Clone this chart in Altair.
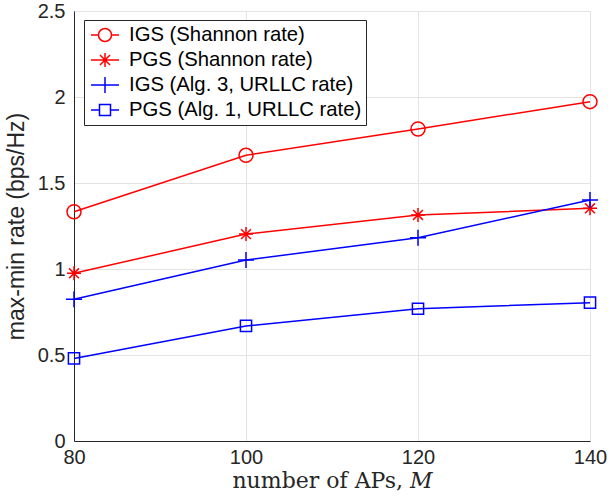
import altair as alt
import pandas as pd

aps = [80, 100, 120, 140]
series_names = ["IGS (Shannon rate)", "PGS (Shannon rate)", "IGS (Alg. 3, URLLC rate)", "PGS (Alg. 1, URLLC rate)"]
igs_shannon = [1.333, 1.661, 1.814, 1.973]
pgs_shannon = [0.975, 1.203, 1.314, 1.353]
igs_urllc = [0.824, 1.052, 1.182, 1.401]
pgs_urllc = [0.48, 0.669, 0.769, 0.804]
series_colors = ["#ff0000", "#ff0000", "#0000ff", "#0000ff"]
y_ticks = [0, 0.5, 1, 1.5, 2, 2.5]

rows = []
for name, vals in zip(series_names, [igs_shannon, pgs_shannon, igs_urllc, pgs_urllc]):
    for a, v in zip(aps, vals):
        rows.append({"aps": a, "rate": v, "series": name})
df = pd.DataFrame(rows)

marker_paths = [
    "M1,0A1,1,0,1,1,-1,0A1,1,0,1,1,1,0Z",
    "M-1,0H1M0,-1V1M-0.7,-0.7L0.7,0.7M-0.7,0.7L0.7,-0.7",
    "M-1.15,0H1.15M0,-1.15V1.15",
    "M-0.8,-0.8H0.8V0.8H-0.8Z",
]
legend_paths = [
    "M-1.4,0H-0.65M0.65,0H1.4M0.65,0A0.65,0.65,0,1,1,-0.65,0A0.65,0.65,0,1,1,0.65,0",
    "M-1.4,0H1.4M0,-0.7V0.7M-0.5,-0.5L0.5,0.5M-0.5,0.5L0.5,-0.5",
    "M-1.4,0H1.4M0,-0.8V0.8",
    "M-1.4,0H-0.55M0.55,0H1.4M-0.55,-0.55H0.55V0.55H-0.55Z",
]

TXT = "#262626"
GRID = "#e3e3e3"

x_enc = alt.X("aps:Q", scale=alt.Scale(domain=[80, 140], nice=False),
              axis=alt.Axis(values=aps, title="number of APs, 𝑀", titleFont="DejaVu Serif",
                            titleFontSize=22, titleFontWeight="normal", titleColor=TXT,
                            labelFont="Liberation Sans", labelFontSize=20, labelColor=TXT,
                            ticks=False, labelPadding=6, titlePadding=3,
                            domainColor=TXT, gridColor=GRID, labelFlush=False))
y_enc = alt.Y("rate:Q", scale=alt.Scale(domain=[0, 2.5], nice=False),
              axis=alt.Axis(values=y_ticks, format="~g", title="max-min rate (bps/Hz)",
                            titleFont="Liberation Sans",
                            titleFontSize=23, titleFontWeight="normal", titleColor=TXT,
                            labelFont="Liberation Sans", labelFontSize=20, labelColor=TXT,
                            ticks=False, labelPadding=9, titlePadding=9,
                            domainColor=TXT, gridColor=GRID, labelFlush=False))

def color_scale():
    return alt.Scale(domain=series_names, range=series_colors)

lines = alt.Chart(df).mark_line(strokeWidth=1.5).encode(
    x=x_enc, y=y_enc,
    color=alt.Color("series:N", scale=color_scale(), legend=None),
)
points = alt.Chart(df).mark_point(filled=False, strokeWidth=1.5, size=196, opacity=1).encode(
    x=x_enc, y=y_enc,
    color=alt.Color("series:N", scale=color_scale(), legend=None),
    shape=alt.Shape("series:N", scale=alt.Scale(domain=series_names, range=marker_paths), legend=None),
)
legend_kw = dict(
    title=None, orient="none", legendX=10, legendY=9,
    labelFont="Liberation Sans", labelFontSize=20.3, labelColor="#000000", labelLimit=0,
    strokeColor=TXT, fillColor="#ffffff", padding=4,
    symbolSize=400, symbolStrokeWidth=1.5, symbolFillColor="transparent",
    symbolOpacity=1, symbolOffset=6, rowPadding=3, labelOffset=13,
)
legend_layer = alt.Chart(df).mark_point(filled=False, strokeWidth=1.5, size=400, opacity=0).encode(
    x=x_enc, y=y_enc,
    color=alt.Color("series:N", scale=color_scale(), legend=alt.Legend(**legend_kw)),
    shape=alt.Shape("series:N", scale=alt.Scale(domain=series_names, range=legend_paths),
                    legend=alt.Legend(**legend_kw)),
)

chart = alt.layer(lines, points, legend_layer).resolve_scale(
    color="independent", shape="independent"
).properties(
    width=516, height=430,
    padding={"left": 74, "top": 11, "right": 18, "bottom": 62},
    autosize=alt.AutoSizeParams(type="none"),
).configure_view(stroke=TXT, strokeWidth=1).configure(background="white")

chart.save("out.html", embed_options={"renderer": "svg", "actions": False})
